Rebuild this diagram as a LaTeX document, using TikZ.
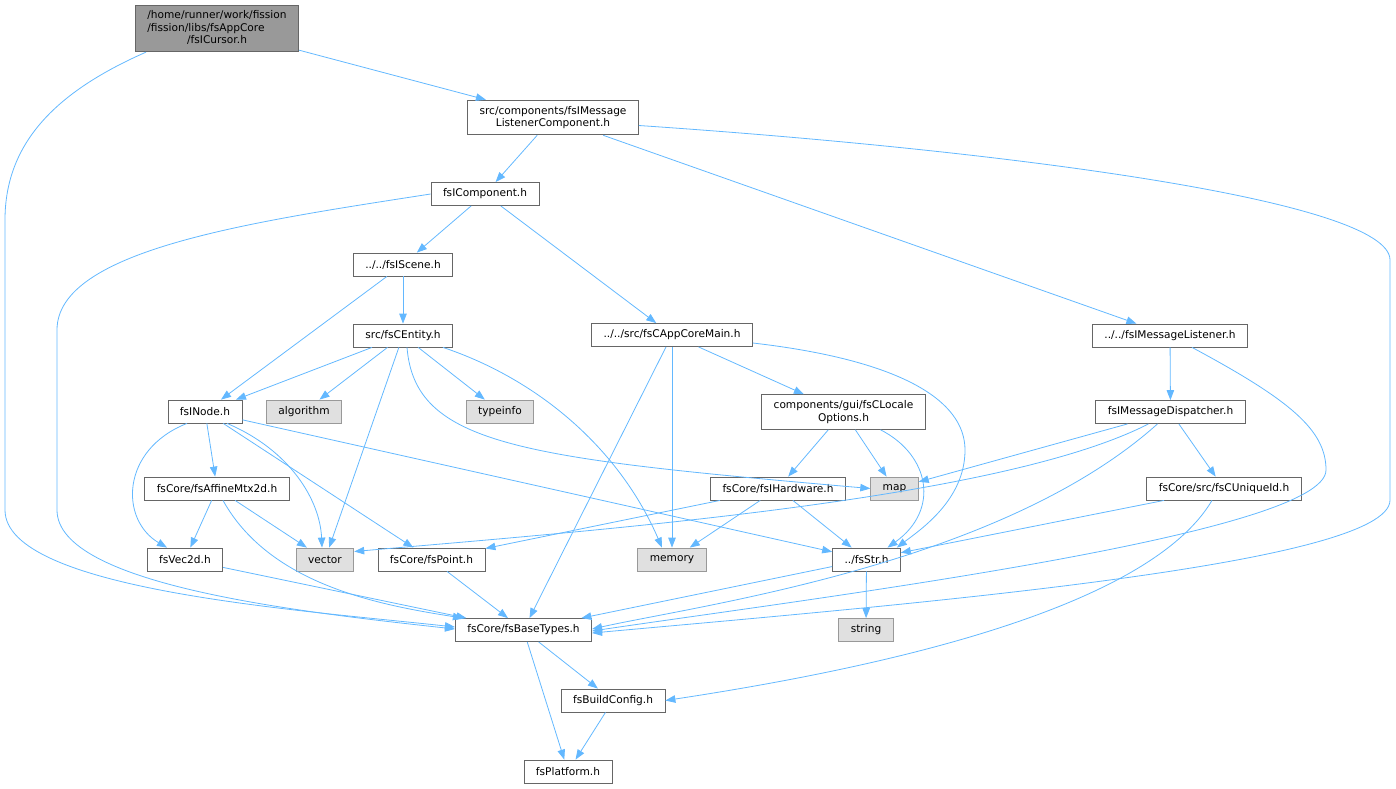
\documentclass[tikz,border=0pt]{standalone}
\usepackage{fontspec}
\setmainfont{DejaVu Sans}
\usetikzlibrary{arrows.meta}
\definecolor{edgeblue}{HTML}{63B8FF}
\definecolor{boxline}{HTML}{666666}
\definecolor{sysline}{HTML}{999999}
\definecolor{sysfill}{HTML}{E0E0E0}
\definecolor{rootfill}{HTML}{999999}

\begin{document}
\begin{tikzpicture}[x=1pt, y=-1pt,
    hdr/.style={draw=boxline, fill=white, line width=0.8pt, font=\fontsize{10.6}{12.5}\selectfont,
        inner xsep=12pt, inner ysep=6pt, minimum height=23pt, align=center},
    syshdr/.style={hdr, draw=sysline, fill=sysfill},
    roothdr/.style={hdr, fill=rootfill, inner ysep=4.5pt},
    inc/.style={color=edgeblue, line width=0.8pt, -{Triangle[length=10pt,width=7.5pt]}}]
    \useasboundingbox (0,0) rectangle (1396,788);

    % Define headers
    \node[roothdr] (cursor) at (217,28.5) {\begin{tabular}{@{}l@{}}/home/runner/work/fission\\/fission/libs/fsAppCore\\\multicolumn{1}{@{}c@{}}{/fsICursor.h}\end{tabular}};
    \node[hdr] (lcomp) at (553,117.5) {src/components/fsIMessage\\ListenerComponent.h};
    \node[hdr] (comp) at (485,194) {fsIComponent.h};
    \node[hdr] (scene) at (403,264.5) {../../fsIScene.h};
    \node[hdr] (entity) at (403,335.5) {src/fsCEntity.h};
    \node[hdr] (coremain) at (672,335) {../../src/fsCAppCoreMain.h};
    \node[hdr] (listener) at (1170,335.5) {../../fsIMessageListener.h};
    \node[hdr] (inode) at (205,411.5) {fsINode.h};
    \node[syshdr] (algorithm) at (304,411.5) {algorithm};
    \node[syshdr] (typeinfo) at (500,411.5) {typeinfo};
    \node[hdr] (locale) at (843.5,412) {components/gui/fsCLocale\\Options.h};
    \node[hdr] (dispatcher) at (1170.5,412) {fsIMessageDispatcher.h};
    \node[hdr] (affine) at (217,488.5) {fsCore/fsAffineMtx2d.h};
    \node[hdr] (hardware) at (778,488.5) {fsCore/fsIHardware.h};
    \node[syshdr] (map) at (894.5,488.5) {map};
    \node[hdr] (uniqueid) at (1224,488.5) {fsCore/src/fsCUniqueId.h};
    \node[hdr] (vec2d) at (185,559.5) {fsVec2d.h};
    \node[syshdr] (vector) at (325,559.5) {vector};
    \node[hdr] (point) at (431.5,559.5) {fsCore/fsPoint.h};
    \node[syshdr] (memory) at (672,559.5) {memory};
    \node[hdr] (str) at (866.5,559.5) {../fsStr.h};
    \node[hdr] (basetypes) at (523.5,630) {fsCore/fsBaseTypes.h};
    \node[syshdr] (string) at (866,630) {string};
    \node[hdr] (buildconfig) at (613,700.5) {fsBuildConfig.h};
    \node[hdr] (platform) at (568,771.5) {fsPlatform.h};

    % Straight includes
    \foreach \a/\b in {cursor/lcomp, lcomp/comp, lcomp/listener, comp/scene, comp/coremain,
        scene/inode, scene/entity, entity/inode, entity/algorithm, entity/vector, entity/typeinfo,
        coremain/basetypes, coremain/memory, coremain/locale, locale/hardware, locale/map,
        listener/dispatcher, dispatcher/map, dispatcher/uniqueid, uniqueid/str,
        hardware/point, hardware/memory, hardware/str, inode/affine, inode/point, inode/str,
        affine/vec2d, affine/vector, vec2d/basetypes, point/basetypes, str/basetypes, str/string,
        basetypes/buildconfig, basetypes/platform, buildconfig/platform}
        \draw[inc] (\a) -- (\b);

    % Curved includes, left side
    \draw[inc] ([xshift=11pt]cursor.south west) .. controls (60,90) and (5,140) .. (5,220)
        -- (5,510) .. controls (5,590) and (300,610) .. ([yshift=3pt]basetypes.west);
    \draw[inc] (comp.west) .. controls (250,222) and (57,250) .. (57,330)
        -- (57,510) .. controls (57,585) and (300,612) .. ([yshift=1pt]basetypes.west);
    \draw[inc] ([xshift=-18pt]inode.south) .. controls (120,450) and (120,520) .. ([xshift=-18pt]vec2d.north);
    \draw[inc] ([xshift=22pt]inode.south) .. controls (290,450) and (320,500) .. ([xshift=-3pt]vector.north);
    \draw[inc] ([xshift=6pt]affine.south) .. controls (270,585) and (380,605) .. ([xshift=8pt]basetypes.north west);

    % Curved includes, middle
    \draw[inc] ([xshift=4pt]entity.south) .. controls (415,445) and (520,458) .. (map.west);
    \draw[inc] ([xshift=40pt]entity.south) .. controls (540,380) and (620,450) .. ([xshift=-10pt]memory.north);
    \draw[inc] ([yshift=-8pt]coremain.east) .. controls (900,360) and (965,400) .. (965,450)
        .. controls (965,500) and (920,530) .. ([xshift=-4pt]str.north east);
    \draw[inc] ([xshift=37pt]locale.south) .. controls (930,455) and (940,510) .. ([xshift=21pt]str.north);

    % Curved includes, right side
    \draw[inc] ([yshift=-8pt]lcomp.east) .. controls (1000,150) and (1390,200) .. (1390,260)
        -- (1390,500) .. controls (1390,565) and (900,605) .. ([yshift=-3pt]basetypes.east);
    \draw[inc] ([xshift=22pt]listener.south) .. controls (1290,400) and (1326,430) .. (1326,470)
        .. controls (1326,535) and (800,600) .. ([yshift=-1pt]basetypes.east);
    \draw[inc] ([xshift=-22pt]dispatcher.south) .. controls (1000,500) and (600,530) .. ([yshift=8pt]vector.east);
    \draw[inc] ([xshift=-13pt]dispatcher.south) .. controls (1000,565) and (700,605) .. ([yshift=1pt]basetypes.east);
    \draw[inc] ([xshift=-12pt]uniqueid.south) .. controls (1150,605) and (900,665) .. (buildconfig.east);
\end{tikzpicture}
\end{document}
